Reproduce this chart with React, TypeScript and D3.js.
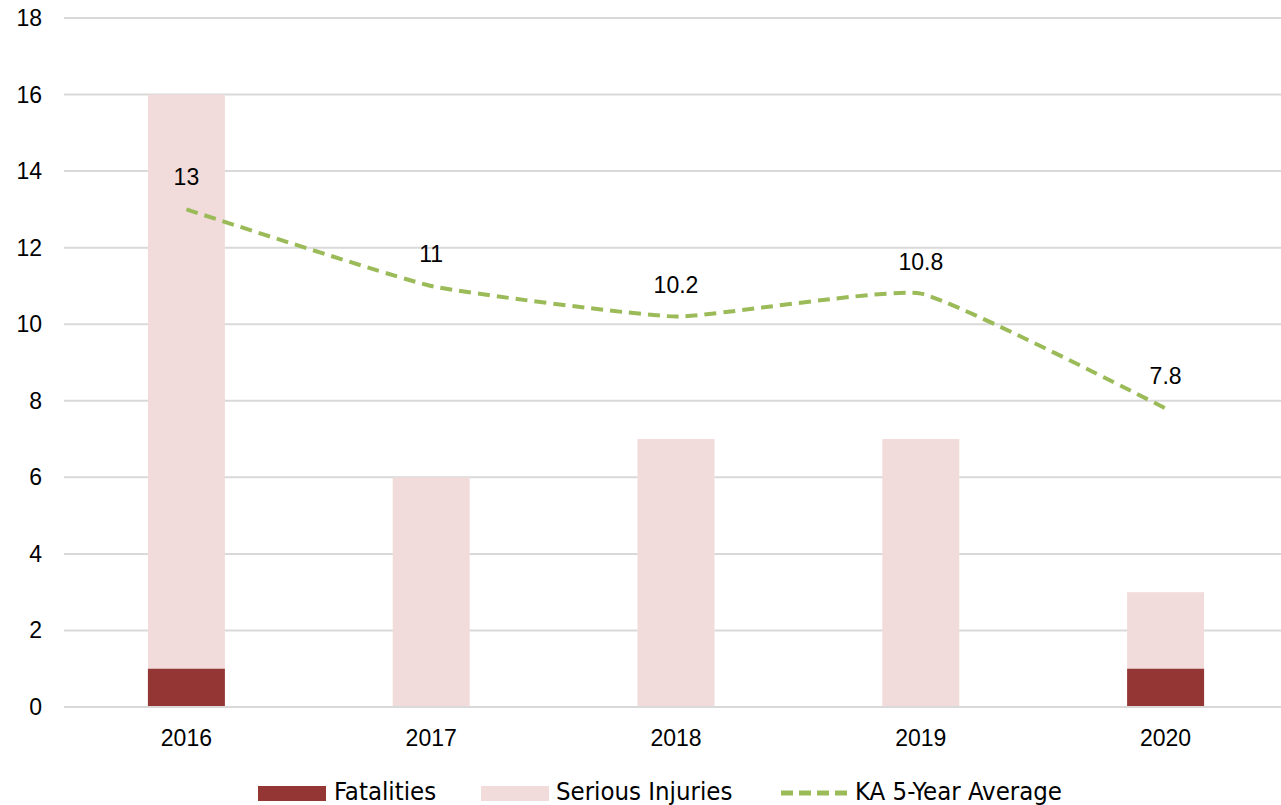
import React from "react";
import * as d3 from "d3";

const years = ["2016", "2017", "2018", "2019", "2020"];
const fatalities = [1, 0, 0, 0, 1];
const seriousInjuries = [15, 6, 7, 7, 2];
const kaAverage = [13, 11, 10.2, 10.8, 7.8];
const yTicks = [0, 2, 4, 6, 8, 10, 12, 14, 16, 18];

const W = 1281;
const H = 805;
const FONT = "'Liberation Sans', Arial, Helvetica, sans-serif";
const NARROW = "'Liberation Sans Narrow', 'Arial Narrow', 'DejaVu Sans Condensed', sans-serif";

export default function App() {
  const x = d3.scaleBand<string>().domain(years).range([64, 1288]).padding(0);
  const y = d3.scaleLinear().domain([0, 18]).range([707, 18]);
  const barW = 77;
  const cx = (yr: string) => (x(yr) as number) + x.bandwidth() / 2;

  const line = d3
    .line<number>()
    .x((_, i) => cx(years[i]))
    .y((d) => y(d))
    .curve(d3.curveCardinal.tension(0.6));

  return (
    <svg
      width={W}
      height={H}
      style={{ position: "absolute", left: 0, top: 0, background: "#fff" }}
    >
      {yTicks.map((t) => (
        <g key={t}>
          <line x1={64} x2={W} y1={y(t)} y2={y(t)} stroke="#d9d9d9" strokeWidth={2} />
          <text
            x={42}
            y={y(t)}
            textAnchor="end"
            dominantBaseline="central"
            fontFamily={FONT}
            fontSize={23}
            fill="#000"
          >
            {t}
          </text>
        </g>
      ))}
      {years.map((yr, i) => (
        <g key={yr}>
          <rect
            x={cx(yr) - barW / 2}
            width={barW}
            y={y(fatalities[i] + seriousInjuries[i])}
            height={y(fatalities[i]) - y(fatalities[i] + seriousInjuries[i])}
            fill="#F2DCDB"
          />
          {fatalities[i] > 0 && (
            <rect
              x={cx(yr) - barW / 2}
              width={barW}
              y={y(fatalities[i])}
              height={y(0) - y(fatalities[i])}
              fill="#943634"
            />
          )}
          <text
            x={cx(yr)}
            y={738}
            textAnchor="middle"
            dominantBaseline="central"
            fontFamily={FONT}
            fontSize={23}
            fill="#000"
          >
            {yr}
          </text>
        </g>
      ))}
      <line x1={64} x2={W} y1={y(0)} y2={y(0)} stroke="#d9d9d9" strokeWidth={2} />
      <path
        d={line(kaAverage) || ""}
        fill="none"
        stroke="#9BBB59"
        strokeWidth={4}
        strokeDasharray="12 7"
      />
      {kaAverage.map((v, i) => (
        <text
          key={i}
          x={cx(years[i])}
          y={y(v) - 32}
          textAnchor="middle"
          dominantBaseline="central"
          fontFamily={FONT}
          fontSize={23}
          fill="#000"
        >
          {v}
        </text>
      ))}
      {/* Legend */}
      <g fontFamily={NARROW} fontSize={25.5} fill="#000">
        <rect x={258} y={786} width={68} height={15} fill="#943634" />
        <text x={334} y={800}>Fatalities</text>
        <rect x={481} y={786} width={68} height={15} fill="#F2DCDB" />
        <text x={556} y={800}>Serious Injuries</text>
        <line x1={781} x2={847} y1={793} y2={793} stroke="#9BBB59" strokeWidth={5} strokeDasharray="12 6" />
        <text x={855} y={800}>KA 5-Year Average</text>
      </g>
    </svg>
  );
}
